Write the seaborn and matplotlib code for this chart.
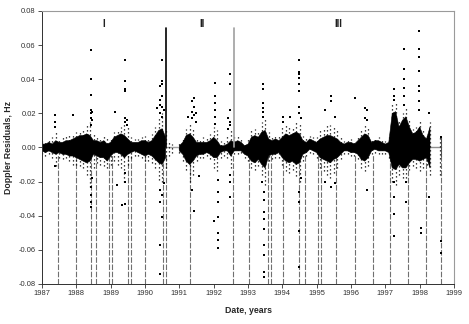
import numpy as np
import pandas as pd
import seaborn as sns
import matplotlib
matplotlib.use('Agg')
import matplotlib.pyplot as plt

# bins of 0.1 year, 1987.0 ... 1998.6
bin_years = np.round(np.arange(1987.0, 1998.65, 0.1), 1)
nan = np.nan

# dense core of the residual band (Hz)
core_hi = [0.002, 0.002, 0.003, 0.002, 0.004, 0.003, 0.003, 0.004, 0.004, 0.005,
           0.006, 0.007, 0.007, 0.008, 0.007, 0.004, 0.004, 0.003, 0.004, 0.002,
           0.003, 0.006, 0.007, 0.008, 0.007, 0.005, 0.003, 0.003, 0.003, 0.004,
           0.004, 0.003, 0.004, 0.007, 0.010, 0.011, 0.006, nan, nan, nan,
           0.001, 0.003, 0.007, 0.008, 0.006, 0.003, 0.003, 0.003, 0.003, 0.004,
           0.006, 0.004, 0.001, 0.001, 0.002, 0.004, 0.003, 0.004, 0.003, 0.001,
           0.002, 0.006, 0.007, 0.006, 0.009, 0.010, 0.005, 0.004, 0.005, 0.004,
           0.006, 0.008, 0.007, 0.008, 0.009, 0.008, 0.004, 0.003, 0.005, 0.004,
           0.003, 0.005, 0.006, 0.007, 0.007, 0.006, 0.005, 0.003, 0.002, 0.003,
           0.003, 0.002, 0.004, 0.006, 0.008, 0.007, 0.003, 0.004, 0.004, 0.003,
           0.002, 0.003, 0.020, 0.021, 0.012, 0.016, 0.018, 0.012, 0.008, 0.009,
           0.012, 0.007, 0.005, 0.012, nan, nan, nan]
core_lo = [-0.002, -0.003, -0.002, -0.003, -0.004, -0.003, -0.004, -0.004, -0.005, -0.005,
           -0.006, -0.007, -0.008, -0.009, -0.008, -0.004, -0.005, -0.006, -0.006, -0.008,
           -0.005, -0.003, -0.003, -0.004, -0.006, -0.004, -0.003, -0.002, -0.003, -0.004,
           -0.005, -0.004, -0.005, -0.007, -0.009, -0.010, -0.006, nan, nan, nan,
           -0.002, -0.004, -0.008, -0.010, -0.008, -0.005, -0.004, -0.004, -0.003, -0.004,
           -0.006, -0.006, -0.003, -0.002, -0.002, -0.005, -0.002, -0.002, -0.002, -0.004,
           -0.005, -0.008, -0.009, -0.007, -0.010, -0.012, -0.005, -0.004, -0.004, -0.003,
           -0.006, -0.008, -0.009, -0.008, -0.010, -0.009, -0.004, -0.003, -0.001, -0.002,
           -0.003, -0.006, -0.007, -0.008, -0.009, -0.007, -0.006, -0.004, -0.002, -0.002,
           -0.003, -0.003, -0.004, -0.007, -0.008, -0.006, -0.002, -0.001, -0.002, -0.002,
           -0.002, -0.003, -0.012, -0.013, -0.010, -0.012, -0.012, -0.009, -0.007, -0.007,
           -0.008, -0.007, -0.006, -0.012, nan, nan, nan]

# sparser scatter around the core (Hz)
halo_hi = [0.004, 0.004, 0.005, 0.006, 0.010, 0.005, 0.006, 0.007, 0.008, 0.008,
           0.009, 0.010, 0.011, 0.013, 0.015, 0.008, 0.007, 0.006, 0.007, 0.006,
           0.006, 0.009, 0.011, 0.012, 0.014, 0.013, 0.006, 0.005, 0.005, 0.006,
           0.007, 0.006, 0.008, 0.012, 0.018, 0.020, 0.010, 0.003, 0.002, nan,
           0.003, 0.006, 0.011, 0.014, 0.012, 0.006, 0.005, 0.006, 0.006, 0.008,
           0.012, 0.010, 0.004, 0.004, 0.007, 0.010, 0.008, 0.007, 0.006, 0.003,
           0.005, 0.010, 0.011, 0.010, 0.015, 0.018, 0.009, 0.007, 0.008, 0.007,
           0.012, 0.013, 0.012, 0.012, 0.015, 0.015, 0.007, 0.006, 0.007, 0.006,
           0.006, 0.010, 0.012, 0.013, 0.013, 0.012, 0.010, 0.006, 0.004, 0.005,
           0.005, 0.004, 0.007, 0.011, 0.014, 0.012, 0.005, 0.006, 0.006, 0.005,
           0.004, 0.006, 0.026, 0.026, 0.016, 0.020, 0.024, 0.016, 0.011, 0.012,
           0.016, 0.010, 0.008, 0.015, nan, nan, 0.006]
halo_lo = [-0.004, -0.005, -0.004, -0.006, -0.011, -0.006, -0.007, -0.006, -0.008, -0.010,
           -0.010, -0.011, -0.012, -0.016, -0.023, -0.012, -0.009, -0.010, -0.011, -0.012,
           -0.010, -0.008, -0.010, -0.012, -0.020, -0.010, -0.006, -0.005, -0.005, -0.006,
           -0.008, -0.008, -0.009, -0.012, -0.019, -0.020, -0.012, -0.005, -0.003, nan,
           -0.003, -0.008, -0.013, -0.020, -0.016, -0.008, -0.006, -0.006, -0.005, -0.007,
           -0.012, -0.014, -0.006, -0.005, -0.006, -0.012, -0.004, -0.004, -0.003, -0.006,
           -0.008, -0.012, -0.013, -0.011, -0.016, -0.022, -0.008, -0.007, -0.006, -0.006,
           -0.010, -0.014, -0.015, -0.013, -0.017, -0.020, -0.008, -0.005, -0.003, -0.004,
           -0.006, -0.012, -0.014, -0.016, -0.018, -0.015, -0.012, -0.007, -0.004, -0.004,
           -0.005, -0.005, -0.007, -0.012, -0.014, -0.011, -0.004, -0.003, -0.004, -0.004,
           -0.004, -0.006, -0.020, -0.022, -0.016, -0.018, -0.020, -0.013, -0.011, -0.012,
           -0.014, -0.012, -0.010, -0.016, nan, nan, -0.016]

# isolated outliers, grouped by date column
spike_years = [1987.38, 1987.90, 1988.43, 1988.46, 1989.13, 1989.18, 1989.33, 1989.42,
               1989.48, 1990.35, 1990.44, 1990.50, 1990.55, 1991.25, 1991.37, 1991.43,
               1991.49, 1991.57, 1992.01, 1992.04, 1992.13, 1992.42, 1992.48, 1993.41,
               1993.44, 1993.47, 1994.02, 1994.22, 1994.49, 1994.54, 1995.24, 1995.42,
               1995.53, 1996.12, 1996.41, 1996.47, 1997.25, 1997.54, 1997.60, 1997.98,
               1998.04, 1998.27, 1998.62]
spike_vals = [[0.019, 0.015, 0.012, -0.011],
              [0.019],
              [0.057, 0.040, 0.031, 0.022, 0.020, 0.017, 0.013, -0.023, -0.028, -0.032, -0.035],
              [0.021, 0.016, -0.018],
              [0.021],
              [-0.022],
              [-0.034],
              [0.051, 0.039, 0.034, 0.033, 0.017, 0.015, -0.015, -0.020, -0.033],
              [0.016, 0.013],
              [0.023],
              [0.036, 0.028, 0.025, 0.020, -0.025, -0.032, -0.057, -0.074],
              [0.0515, 0.039, 0.037, 0.030, 0.024, 0.018, -0.028, -0.041],
              [0.022, -0.021],
              [0.018],
              [0.027, 0.021, 0.017, -0.025],
              [0.029, 0.024, 0.019, -0.037],
              [0.020, 0.015],
              [-0.017],
              [-0.043],
              [0.038, 0.030, 0.026, 0.022, 0.018, 0.014],
              [-0.019, -0.026, -0.032, -0.041, -0.050, -0.054, -0.059],
              [0.017, 0.011],
              [0.043, 0.037, 0.022, 0.015, 0.013, -0.016, -0.020, -0.029],
              [-0.020],
              [0.037, 0.034, 0.026, 0.023, 0.021, 0.018],
              [-0.026, -0.031, -0.038, -0.042, -0.048, -0.057, -0.063, -0.073, -0.076],
              [0.015, 0.018],
              [0.018],
              [0.0515, 0.044, 0.043, 0.041, 0.037, 0.033, 0.024, 0.020, -0.026, -0.032, -0.049, -0.070],
              [0.017, -0.018],
              [0.022, -0.020],
              [0.030, 0.027, -0.023],
              [0.018, -0.021],
              [0.029],
              [0.023, 0.017],
              [0.022, 0.016, -0.025],
              [0.034, 0.030, 0.028, -0.020, -0.029, -0.039, -0.052],
              [0.058, 0.046, 0.040, 0.035, 0.030, 0.025],
              [-0.020, -0.032],
              [0.068, 0.058, 0.053, 0.045, 0.036, 0.033, 0.027, 0.022],
              [-0.047, -0.050],
              [0.020, -0.029],
              [0.006, -0.055, -0.062]]

# data gaps marked by dashed verticals
gap_years = [1987.47, 1987.99, 1988.43, 1988.57, 1988.95, 1989.04, 1989.51, 1989.59,
             1990.00, 1990.52, 1990.61, 1991.31, 1992.56, 1993.03, 1993.58, 1993.67,
             1994.02, 1994.49, 1994.66, 1995.04, 1995.13, 1995.56, 1996.12, 1996.64,
             1997.14, 1997.66, 1998.19, 1998.62]

# period markers
period_labels = ['I', 'II', 'III']
period_x = [1988.8, 1991.66, 1995.62]

spikes = pd.DataFrame({
    'year': [y for y, vals in zip(spike_years, spike_vals) for _ in vals],
    'resid': [v for vals in spike_vals for v in vals],
})

sns.set_theme(style='ticks')
plt.rcParams['font.family'] = ['Liberation Sans', 'DejaVu Sans']
plt.rcParams['axes.unicode_minus'] = False

fig = plt.figure(figsize=(4.69, 3.24), dpi=100)
ax = fig.add_axes([0.0896, 0.1235, 0.8785, 0.8426])

ax.vlines(gap_years, -0.08, -0.004, colors='#707070', linewidth=0.8,
          linestyles=(0, (5, 1.5)), zorder=1)

# markers of the analysed intervals
ax.plot([1990.61, 1990.61], [0, 0.0703], color='black', lw=1.2, zorder=3)
ax.plot([1992.59, 1992.59], [0, 0.0703], color='#a0a0a0', lw=1.2, zorder=3)
ax.plot([1990.61, 1992.59], [0, 0], color='#a0a0a0', lw=1.0, zorder=1)
ax.plot([1997.3, 1998.62], [0, 0], color='#909090', lw=1.0, zorder=1)
ax.plot([1998.62, 1998.62], [-0.005, 0.006], color='#505050', lw=0.8, zorder=3)

ax.fill_between(bin_years, core_lo, core_hi, color='black', lw=0.4, zorder=2)
ax.vlines(bin_years, halo_lo, halo_hi, colors='black', linewidth=0.9,
          linestyles=(0, (1, 2.2)), zorder=2)
sns.scatterplot(data=spikes, x='year', y='resid', ax=ax, color='black',
                marker='s', s=2.2, linewidth=0, zorder=4)

for lab, xp in zip(period_labels, period_x):
    ax.text(xp, 0.0725, lab, ha='center', va='center', fontsize=7,
            fontweight='bold', color='#202020')

ax.set_xlim(1987, 1999)
ax.set_ylim(-0.08, 0.08)
ax.set_xticks(range(1987, 2000))
ax.set_xticklabels([str(y) for y in range(1987, 2000)])
ax.set_yticks([-0.08, -0.06, -0.04, -0.02, 0.0, 0.02, 0.04, 0.06, 0.08])
ax.set_yticklabels(['-0.08', '-0.06', '-0.04', '-0.02', '0.00', '0.02', '0.04', '0.06', '0.08'])
ax.tick_params(direction='out', length=3, width=0.6, labelsize=5.4,
               colors='#303030', pad=1.5)

ax.set_xlabel('Date, years', fontsize=6.3, fontweight='bold', labelpad=6)
ax.set_ylabel('Doppler Residuals, Hz', fontsize=6.3, fontweight='bold', labelpad=4)

for side in ['left', 'bottom']:
    ax.spines[side].set_color('#303030')
    ax.spines[side].set_linewidth(0.7)
for side in ['top', 'right']:
    ax.spines[side].set_visible(True)
    ax.spines[side].set_color('#9a9a9a')
    ax.spines[side].set_linewidth(0.8)

fig.savefig('out.png', dpi=100)
